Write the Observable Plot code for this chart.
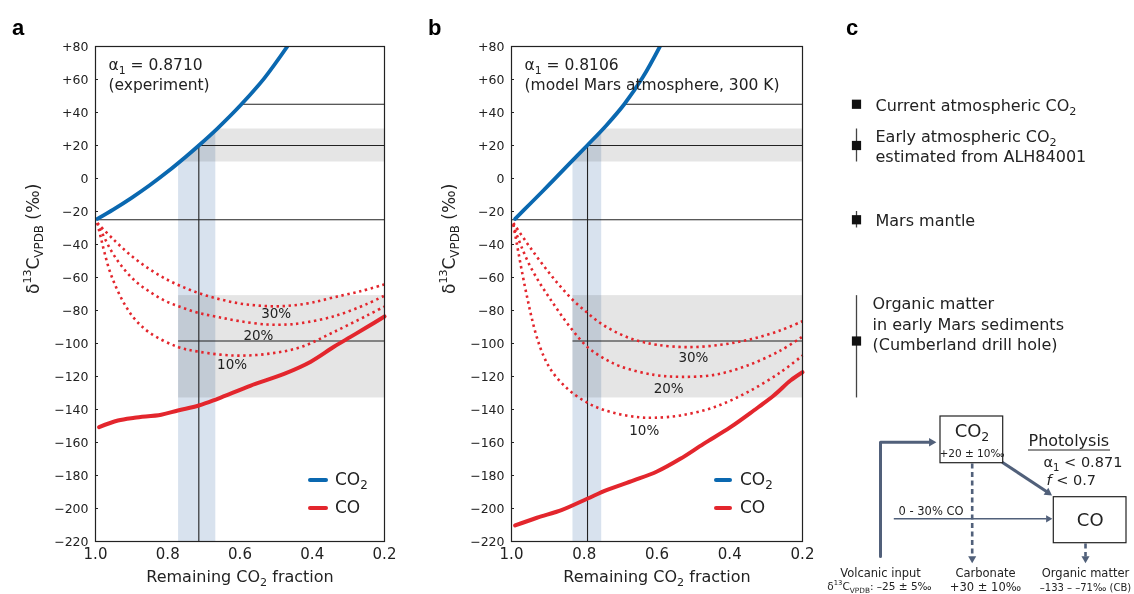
<!DOCTYPE html>
<html><head><meta charset="utf-8">
<script src="https://cdn.jsdelivr.net/npm/d3@7"></script>
<script src="https://cdn.jsdelivr.net/npm/@observablehq/plot@0.6"></script>
<style>
body{margin:0;background:#fff;font-family:"DejaVu Sans",sans-serif;color:#222;}
#root{position:relative;width:1134px;height:594px;overflow:hidden;background:#fff;}
.panel{position:absolute;top:0;}
.letter{position:absolute;font:bold 22px "Liberation Sans",Arial,sans-serif;line-height:22px;color:#000;}
.leg{position:absolute;font-size:17px;line-height:20px;white-space:nowrap;}
.sw{position:absolute;height:4px;border-radius:2px;}
.leg sub{font-size:70%;vertical-align:-0.3em;line-height:0;}
</style></head><body><div id="root"></div>
<script>
// ---------- data ----------
const xTicks = [1.0, 0.8, 0.6, 0.4, 0.2];
const yTicks = [80, 60, 40, 20, 0, -20, -40, -60, -80, -100, -120, -140, -160, -180, -200, -220];

// Panel a (alpha1 = 0.8710, experiment): [remaining CO2 fraction, delta13C (per mil)]
const co2A = [[0.995,-24.5],[0.95,-18.7],[0.90,-11.7],[0.85,-4.1],[0.80,4.2],[0.75,13.2],[0.714,20],[0.662,30.4],[0.598,44.5],[0.533,60.7],[0.469,80]];
const coA = [[0.99,-150.7],[0.938,-146.7],[0.892,-145],[0.818,-143.2],[0.772,-140.6],[0.714,-137.6],[0.662,-133.5],[0.57,-125.5],[0.478,-118.4],[0.404,-111],[0.34,-102],[0.294,-96],[0.248,-90],[0.2,-83.6]];
const mix30A = [[0.995,-27],[0.95,-37],[0.90,-47],[0.85,-55],[0.80,-61.5],[0.75,-66.5],[0.70,-70.5],[0.65,-73.5],[0.60,-75.8],[0.55,-77],[0.50,-77.5],[0.45,-76.8],[0.40,-75.2],[0.34,-72],[0.266,-68.3],[0.2,-64.2]];
const mix20A = [[0.995,-27],[0.985,-31.5],[0.957,-43.6],[0.929,-52.7],[0.892,-61.8],[0.855,-67.9],[0.81,-73.9],[0.763,-78],[0.714,-81.5],[0.66,-84],[0.60,-86.5],[0.524,-88.5],[0.47,-88.5],[0.432,-87.7],[0.34,-83.5],[0.248,-76],[0.2,-71]];
const mix10A = [[0.995,-27],[0.985,-36],[0.975,-45],[0.961,-55.8],[0.943,-65.9],[0.92,-76],[0.892,-85],[0.85,-93.5],[0.773,-102],[0.714,-105],[0.616,-107.3],[0.524,-106.3],[0.432,-102.2],[0.34,-93],[0.248,-83],[0.2,-77.6]];
const mixLabelsA = [{f:0.5,v:-82,t:"30%"},{f:0.549,v:-95,t:"20%"},{f:0.622,v:-113,t:"10%"}];
const refA = {f0:0.714, bandLo:0.77, bandHi:0.667, f45:0.598};

// Panel b (alpha1 = 0.8106, model Mars atmosphere, 300 K)
const co2B = [[0.99,-24.5],[0.95,-15.6],[0.90,-4.5],[0.85,6.9],[0.792,20],[0.74,32],[0.69,45],[0.64,61],[0.592,80]];
const coB = [[0.99,-210.3],[0.93,-205.6],[0.861,-200.8],[0.792,-194.1],[0.737,-188.7],[0.664,-183],[0.6,-177.6],[0.536,-169.9],[0.472,-160.8],[0.398,-150.7],[0.334,-140.6],[0.279,-131.5],[0.233,-122.4],[0.2,-117.4]];
const mix30B = [[0.995,-27],[0.96,-38.3],[0.93,-47.5],[0.90,-56.2],[0.87,-64.3],[0.832,-73.5],[0.791,-81.5],[0.75,-88.5],[0.70,-94.5],[0.65,-98.5],[0.60,-100.8],[0.517,-102.2],[0.425,-100.8],[0.34,-97.3],[0.26,-92],[0.2,-86.5]];
const mix20B = [[0.995,-27.5],[0.988,-32.5],[0.974,-40.6],[0.952,-51.7],[0.924,-62.8],[0.897,-71.9],[0.869,-81],[0.832,-92],[0.791,-102.2],[0.75,-108.5],[0.70,-113.9],[0.608,-119],[0.535,-120.2],[0.443,-119],[0.351,-113.3],[0.26,-104.2],[0.2,-95.8]];
const mix10B = [[0.995,-28],[0.985,-40],[0.975,-52],[0.965,-63.5],[0.955,-74],[0.945,-84],[0.93,-96.5],[0.91,-108.5],[0.89,-116.5],[0.86,-124.5],[0.832,-130],[0.791,-136],[0.75,-140],[0.70,-143],[0.65,-144.7],[0.608,-145],[0.535,-143.6],[0.443,-138.6],[0.351,-129.5],[0.26,-117.4],[0.2,-107.3]];
const mixLabelsB = [{f:0.5,v:-108.7,t:"30%"},{f:0.568,v:-127.5,t:"20%"},{f:0.635,v:-153,t:"10%"}];
const refB = {f0:0.791, bandLo:0.831, bandHi:0.752, f45:0.69};

// Shared reference values (per mil)
const refValues = {current:45, early:20, earlyLo:10, earlyHi:30, mantle:-25, organic:-98.5, orgLo:-133, orgHi:-71};

// Panel c reservoirs
const reservoirs = [
  {label:"Current atmospheric CO_{2}", v:45, lo:45, hi:45},
  {label:"Early atmospheric CO_{2}\nestimated from ALH84001", v:20, lo:10, hi:30},
  {label:"Mars mantle", v:-25, lo:-30, hi:-20},
  {label:"Organic matter\nin early Mars sediments\n(Cumberland drill hole)", v:-98.5, lo:-133, hi:-71}
];

const legendItems = [{name:"CO_{2}", key:"co2"}, {name:"CO", key:"co"}];

// ---------- styles ----------
const FONT = '"DejaVu Sans", sans-serif';
const BLUE = "#0a68b0", RED = "#e3262d", GRAY = "#e5e5e5", BANDBLUE = "#d8e2ee", INK = "#222";
const SLATE = "#51607a";

function richify(root) {
  const NS = "http://www.w3.org/2000/svg";
  root.querySelectorAll("text, tspan").forEach(el => {
    if (el.children.length) return;
    const s = el.textContent;
    if (!/[_^*]\{/.test(s)) return;
    el.textContent = "";
    const re = /([_^*])\{([^}]*)\}/g;
    let last = 0, m;
    const add = (t, kind) => {
      const ts = document.createElementNS(NS, "tspan");
      ts.textContent = t;
      if (kind === "_") { ts.setAttribute("font-size", "70%"); ts.setAttribute("baseline-shift", "-0.35em"); }
      else if (kind === "^") { ts.setAttribute("font-size", "65%"); ts.setAttribute("baseline-shift", "0.75em"); }
      else if (kind === "*") { ts.setAttribute("font-style", "italic"); }
      el.appendChild(ts);
    };
    while ((m = re.exec(s))) {
      if (m.index > last) add(s.slice(last, m.index));
      add(m[2], m[1]);
      last = re.lastIndex;
    }
    if (last < s.length) add(s.slice(last));
  });
}
const fmtY = d => d > 0 ? "+" + d : d < 0 ? "\u2212" + (-d) : "0";
const X = d => d[0], Y = d => d[1];

function panel(p) {
  const bands = [
    {x1:p.ref.bandLo, x2:0.2, y1:refValues.earlyLo, y2:refValues.earlyHi},
    {x1:p.ref.bandLo, x2:0.2, y1:refValues.orgLo, y2:refValues.orgHi}
  ];
  const svg = Plot.plot({
    width: 400, height: 594,
    marginLeft: 95, marginRight: p.mr, marginTop: 46, marginBottom: 53,
    style: {fontFamily: FONT, background: "transparent", overflow: "visible", color: INK},
    x: {domain: [1.0, 0.2], axis: null},
    y: {domain: [-220, 80], axis: null},
    marks: [
      Plot.rect(bands, {x1:"x1", x2:"x2", y1:"y1", y2:"y2", fill: GRAY}),
      Plot.rect([p.ref], {x1:"bandLo", x2:"bandHi", y1:-220, y2:refValues.earlyHi, fill: BANDBLUE, mixBlendMode: "multiply"}),
      Plot.areaY(p.co2, {x: X, y1: Y, y2: 80, fill: "white", curve: "catmull-rom"}),
      Plot.ruleY([refValues.current], {x1: p.ref.f45, x2: 0.2, stroke: INK, strokeWidth: 1.1}),
      Plot.ruleY([refValues.early], {x1: p.ref.f0, x2: 0.2, stroke: INK, strokeWidth: 1.1}),
      Plot.ruleY([refValues.mantle], {x1: 1.0, x2: 0.2, stroke: INK, strokeWidth: 1.1}),
      Plot.ruleY([refValues.organic], {x1: p.ref.bandLo, x2: 0.2, stroke: INK, strokeWidth: 1.1}),
      Plot.ruleX([p.ref.f0], {y1: refValues.early, y2: -220, stroke: INK, strokeWidth: 1.1}),
      ...[p.m30, p.m20, p.m10].map(s => Plot.line(s, {x: X, y: Y, stroke: RED, strokeWidth: 2.6, strokeDasharray: "2.4,3.6", strokeLinecap: "butt", curve: "catmull-rom"})),
      Plot.line(p.co, {x: X, y: Y, stroke: RED, strokeWidth: 4, curve: "catmull-rom"}),
      Plot.line(p.co2, {x: X, y: Y, stroke: BLUE, strokeWidth: 3.8, curve: "catmull-rom", clip: true}),
      Plot.text(p.labels, {x: "f", y: "v", text: "t", fontSize: 13.5, fill: INK}),
      Plot.text([p.alpha], {text: d => d, frameAnchor: "top-left", dx: 13, dy: 9, lineAnchor: "top", textAnchor: "start", fontSize: 15.5, lineHeight: 1.3, fill: INK}),
      Plot.frame({stroke: INK, strokeWidth: 1.2}),
      Plot.axisY({ticks: yTicks, tickSize: 0, tickPadding: 7, tickFormat: fmtY, fontSize: 12.5}),
      Plot.axisY({ticks: yTicks, tickSize: 3, tickFormat: () => "", dx: 3}),
      Plot.axisX({ticks: xTicks, tickSize: 0, tickPadding: 7, tickFormat: d3.format(".1f"), fontSize: 15}),
      Plot.text(["δ^{13}C_{VPDB} (‰)"], {text: d => d, frameAnchor: "left", dx: -62, rotate: -90, fontSize: 17, fill: INK}),
      Plot.text(["Remaining CO_{2} fraction"], {text: d => d, frameAnchor: "bottom", dy: 40, fontSize: 16, fill: INK})
    ]
  });
  richify(svg);
  return svg;
}

const root = document.getElementById("root");
function place(el, left) { const d = document.createElement("div"); d.className = "panel"; d.style.left = left + "px"; d.appendChild(el); root.appendChild(d); }

place(panel({co2: co2A, co: coA, m30: mix30A, m20: mix20A, m10: mix10A, labels: mixLabelsA, ref: refA, mr: 16, alpha: "α_{1} = 0.8710\n(experiment)"}), 0);
place(panel({co2: co2B, co: coB, m30: mix30B, m20: mix20B, m10: mix10B, labels: mixLabelsB, ref: refB, mr: 14, alpha: "α_{1} = 0.8106\n(model Mars atmosphere, 300 K)"}), 416);

// Panel c: reservoir markers on the same delta scale
const cPlot = Plot.plot({
  width: 304, height: 594, marginLeft: 26, marginRight: 4, marginTop: 46, marginBottom: 53,
  style: {fontFamily: FONT, background: "transparent", overflow: "visible", color: INK},
  x: {domain: [0, 1], axis: null},
  y: {domain: [-220, 80], axis: null},
  marks: [
    Plot.ruleX(reservoirs, {x: () => 0, y1: "lo", y2: "hi", stroke: "#444", strokeWidth: 1.3}),
    Plot.dot(reservoirs, {x: () => 0, y: "v", symbol: "square", r: 5.2, fill: "#111", stroke: "none"}),
    Plot.text(reservoirs.slice(0, 3), {x: () => 0, y: "v", text: "label", dx: 19, textAnchor: "start", fontSize: 16, lineHeight: 1.25, fill: INK}),
    Plot.text(reservoirs.slice(3), {x: () => 0, y: "v", text: "label", dx: 16, dy: -18, textAnchor: "start", fontSize: 16, lineHeight: 1.28, fill: INK})
  ]
});
richify(cPlot);
place(cPlot, 830);

// Panel c: process diagram (layout in local pixels)
const boxes = [{x1:110, x2:172.7, y1:416, y2:462.7}, {x1:223.3, x2:296, y1:496.7, y2:542.7}];
const solidPath = [[50,556],[50,441.7],[101,441.7]];
const thickLinks = [{x1:171.7, y1:461.7, x2:216, y2:491}];
const thinLinks = [{x1:63.3, y1:518.3, x2:216, y2:518.3}];
const dashLinks = [{x1:141.7, y1:463, x2:141.7, y2:556}, {x1:255, y1:543, x2:255, y2:556}];
const heads = [
  {x:101, y:441.7, a:90, r:5.5}, {x:217.5, y:492.2, a:123.7, r:5.5},
  {x:217.7, y:518.3, a:90, r:4}, {x:141.7, y:558, a:180, r:5}, {x:255, y:558, a:180, r:5}
];
const diagramTexts = [
  {x:141.5, y:431, t:"CO_{2}", s:18, a:"middle"},
  {x:141.5, y:453, t:"+20 ± 10‰", s:10.5, a:"middle"},
  {x:259.7, y:520, t:"CO", s:18, a:"middle"},
  {x:198, y:440, t:"Photolysis", s:16, a:"start"},
  {x:213, y:462, t:"α_{1} < 0.871", s:14.5, a:"start"},
  {x:216, y:480, t:"*{f} < 0.7", s:14.5, a:"start"},
  {x:68, y:511, t:"0 - 30% CO", s:11.5, a:"start"},
  {x:50, y:573, t:"Volcanic input", s:11.5, a:"middle"},
  {x:49, y:586, t:"δ^{13}C_{VPDB}: –25 ± 5‰", s:10.5, a:"middle"},
  {x:155, y:573, t:"Carbonate", s:11.5, a:"middle"},
  {x:155, y:587, t:"+30 ± 10‰", s:11.5, a:"middle"},
  {x:255, y:573, t:"Organic matter", s:11.5, a:"middle"},
  {x:255, y:587, t:"–133 – –71‰ (CB)", s:10, a:"middle"}
];
const underline = [{x1:198, x2:280, y:449.5}];

const dPlot = Plot.plot({
  width: 304, height: 594, margin: 0,
  style: {fontFamily: FONT, background: "transparent", overflow: "visible", color: INK},
  x: {type: "identity", axis: null},
  y: {type: "identity", axis: null},
  marks: [
    Plot.line(solidPath, {x: X, y: Y, stroke: SLATE, strokeWidth: 3}),
    Plot.link(thickLinks, {x1:"x1", y1:"y1", x2:"x2", y2:"y2", stroke: SLATE, strokeWidth: 3}),
    Plot.link(thinLinks, {x1:"x1", y1:"y1", x2:"x2", y2:"y2", stroke: SLATE, strokeWidth: 1.6}),
    Plot.link(dashLinks, {x1:"x1", y1:"y1", x2:"x2", y2:"y2", stroke: SLATE, strokeWidth: 2.6, strokeDasharray: "5,3.5"}),
    Plot.dot(heads, {x:"x", y:"y", r:"r", rotate:"a", symbol:"triangle", fill: SLATE, stroke: "none"}),
    Plot.rect(boxes, {x1:"x1", x2:"x2", y1:"y1", y2:"y2", fill: "white", stroke: INK, strokeWidth: 1.2}),
    Plot.ruleY(underline, {x1:"x1", x2:"x2", y:"y", stroke: INK, strokeWidth: 1.2}),
    Plot.text(diagramTexts, {x:"x", y:"y", text:"t", fontSize: d => d.s, textAnchor: "start", fill: INK, filter: d => d.a === "start"}),
    Plot.text(diagramTexts, {x:"x", y:"y", text:"t", fontSize: d => d.s, textAnchor: "middle", fill: INK, filter: d => d.a === "middle"})
  ]
});
richify(dPlot);
place(dPlot, 830);

// Panel letters
[["a", 12], ["b", 428], ["c", 846]].forEach(([t, l]) => {
  const d = document.createElement("div"); d.className = "letter"; d.textContent = t;
  d.style.left = l + "px"; d.style.top = "17px"; root.appendChild(d);
});

// Legends
const colorOf = {co2: BLUE, co: RED};
[[308, 20, 335], [714, 18, 740]].forEach(([sx, sw, tx]) => {
  legendItems.forEach((it, i) => {
    const y = 480 + i * 28;
    const s = document.createElement("div"); s.className = "sw";
    s.style.left = sx + "px"; s.style.width = sw + "px"; s.style.top = (y - 2) + "px"; s.style.background = colorOf[it.key];
    root.appendChild(s);
    const t = document.createElement("div"); t.className = "leg";
    t.style.left = tx + "px"; t.style.top = (y - 11) + "px";
    t.innerHTML = it.name.replace(/_\{([^}]*)\}/g, "<sub>$1</sub>");
    root.appendChild(t);
  });
});
</script></body></html>
